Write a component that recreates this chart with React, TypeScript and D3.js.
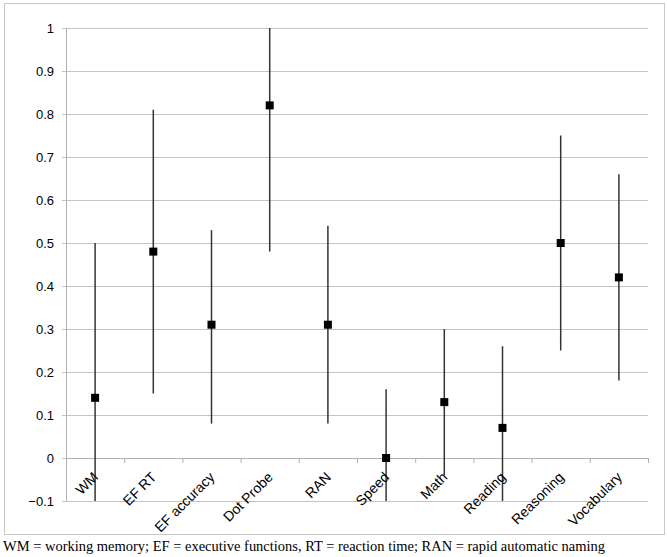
import React from "react";
import * as d3 from "d3";

const categories = ["WM", "EF RT", "EF accuracy", "Dot Probe", "RAN", "Speed", "Math", "Reading", "Reasoning", "Vocabulary"];
const estimates = [0.14, 0.48, 0.31, 0.82, 0.31, 0.0, 0.13, 0.07, 0.5, 0.42];
const lowerBounds = [-0.1, 0.15, 0.08, 0.48, 0.08, -0.1, -0.04, -0.1, 0.25, 0.18];
const upperBounds = [0.5, 0.81, 0.53, 1.0, 0.54, 0.16, 0.3, 0.26, 0.75, 0.66];
const yTicks = [-0.1, 0, 0.1, 0.2, 0.3, 0.4, 0.5, 0.6, 0.7, 0.8, 0.9, 1];
const footnote = "WM = working memory; EF = executive functions, RT = reaction time; RAN = rapid automatic naming";

const W = 667;
const H = 557;

export default function App() {
  const x = d3.scaleBand<string>().domain(categories).range([66, 648]).paddingInner(0).paddingOuter(0);
  const y = d3.scaleLinear().domain([-0.1, 1]).range([501, 28]);
  const y0 = y(0);
  const bw = x.bandwidth();
  const fmt = (v: number) => (Math.abs(v) < 1e-9 ? "0" : d3.format("")(+v.toFixed(1)));

  return (
    <svg width={W} height={H} style={{ position: "absolute", left: 0, top: 0 }}>
      <rect x={0} y={0} width={W} height={H} fill="#fff" />
      <rect x={4.5} y={3.5} width={660} height={531} fill="#fff" stroke="#c8c8c8" strokeWidth={1} />
      {/* gridlines */}
      {yTicks.map((t) => (
        <line key={"g" + t} x1={62} x2={648} y1={Math.round(y(t)) + 0.5} y2={Math.round(y(t)) + 0.5} stroke="#c4c4c4" strokeWidth={1} />
      ))}
      {/* y axis */}
      <line x1={66.5} x2={66.5} y1={y(1)} y2={y(-0.1)} stroke="#b0b0b0" strokeWidth={1} />
      {yTicks.map((t) => (
        <text key={"t" + t} x={54} y={y(t)} dy="0.35em" textAnchor="end" fontFamily="Liberation Sans, Arial, sans-serif" fontSize={13} fill="#000">
          {fmt(t)}
        </text>
      ))}
      {/* x axis at zero */}
      <line x1={66} x2={648} y1={Math.round(y0) + 0.5} y2={Math.round(y0) + 0.5} stroke="#b0b0b0" strokeWidth={1} />
      {categories.map((c) => (
        <line key={"xt" + c} x1={(x(c) as number) + 0.5} x2={(x(c) as number) + 0.5} y1={y0} y2={y0 + 5} stroke="#b0b0b0" strokeWidth={1} />
      ))}
      <line x1={648.5} x2={648.5} y1={y0} y2={y0 + 5} stroke="#b0b0b0" strokeWidth={1} />
      {/* error bars */}
      {categories.map((c, i) => {
        const cx = (x(c) as number) + bw / 2;
        return (
          <line key={"e" + c} x1={cx} x2={cx} y1={y(lowerBounds[i])} y2={y(upperBounds[i])} stroke="#333" strokeWidth={1.5} />
        );
      })}
      {/* markers */}
      {categories.map((c, i) => {
        const cx = (x(c) as number) + bw / 2;
        return <rect key={"m" + c} x={cx - 4} y={y(estimates[i]) - 4} width={8} height={8} fill="#000" />;
      })}
      {/* category labels */}
      {categories.map((c) => {
        const cx = (x(c) as number) + bw / 2;
        const ax = cx + 4;
        const ay = y0 + 20;
        return (
          <text key={"l" + c} x={ax} y={ay} transform={`rotate(-45 ${ax} ${ay})`} textAnchor="end" fontFamily="Liberation Sans, Arial, sans-serif" fontSize={14} fill="#000">
            {c}
          </text>
        );
      })}
      <text x={3} y={551} fontFamily="Liberation Serif, Times New Roman, serif" fontSize={15} fill="#000" textLength={602} lengthAdjust="spacingAndGlyphs">
        {footnote}
      </text>
    </svg>
  );
}
